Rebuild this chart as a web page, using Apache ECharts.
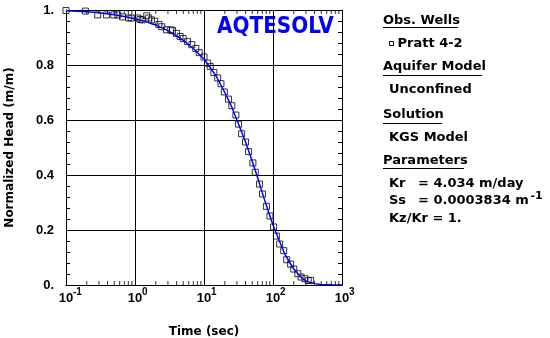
<!DOCTYPE html>
<html>
<head>
<meta charset="utf-8">
<script src="https://cdn.jsdelivr.net/npm/echarts@6/dist/echarts.min.js"></script>
<style>
  html, body { margin: 0; padding: 0; background: #ffffff; }
  #chart { width: 550px; height: 338px; }
</style>
</head>
<body>
<div id="chart"></div>
<script>
// Observed recovery at well Pratt 4-2: elapsed time (s) and normalized head (m/m)
const obsTime = [0.1, 0.191, 0.288, 0.386, 0.493, 0.564, 0.66, 0.81, 0.88, 1.1, 1.18, 1.27, 1.48, 1.58,
  1.73, 1.93, 2.22, 2.44, 2.86, 3.3, 3.5, 3.98, 4.5, 5.0, 5.78, 6.66, 7.6, 8.5, 10.0, 11.3, 12.3, 13.9,
  15.8, 17.6, 19.7, 22.6, 25.3, 29, 31.7, 35.1, 40, 44.3, 51.1, 55.3, 63.8, 70.4, 80.3, 90.4, 102, 112,
  125, 143, 158, 180, 200, 229, 255, 290, 324, 351];
const obsHead = [0.998, 0.996, 0.982, 0.982, 0.982, 0.982, 0.975, 0.971, 0.971, 0.971, 0.966, 0.964, 0.979, 0.971,
  0.964, 0.959, 0.947, 0.939, 0.928, 0.928, 0.925, 0.915, 0.904, 0.896, 0.885, 0.874, 0.86, 0.845, 0.829, 0.807, 0.795, 0.773,
  0.753, 0.732, 0.702, 0.676, 0.652, 0.618, 0.585, 0.55, 0.52, 0.485, 0.444, 0.41, 0.367, 0.331, 0.286, 0.251, 0.211, 0.178,
  0.149, 0.125, 0.092, 0.076, 0.058, 0.041, 0.029, 0.023, 0.016, 0.017];

// KGS model solution curve
const fitTime = [0.1, 0.2, 0.3, 0.5, 0.7, 1.0, 1.5, 2.0, 3.0, 4.0, 5.0, 7.0, 10, 15, 20, 25, 30, 40, 50,
  60, 70, 85, 100, 125, 150, 200, 250, 300, 400, 500, 700, 1000];
const fitHead = [0.997, 0.994, 0.99, 0.983, 0.976, 0.968, 0.956, 0.945, 0.925, 0.906, 0.89, 0.86, 0.822, 0.76, 0.70, 0.65, 0.60, 0.52, 0.45,
  0.39, 0.335, 0.27, 0.218, 0.157, 0.11, 0.058, 0.03, 0.015, 0.005, 0.002, 0.0005, 0.0];

// Axis ticks
const xTickPowers = [-1, 0, 1, 2, 3];
const yTickValues = [0, 0.2, 0.4, 0.6, 0.8, 1];
const yTickLabels = ['0.', '0.2', '0.4', '0.6', '0.8', '1.'];

// Log minor ticks at 2..9 within each decade
const minorTickTimes = [];
for (let p = -1; p < 3; p++) {
  for (let m = 2; m <= 9; m++) minorTickTimes.push(m * Math.pow(10, p));
}

const LABEL_FONT = '"Liberation Sans", Arial, sans-serif';
const TEXT_FONT = '"DejaVu Sans", sans-serif';
const BLACK = '#000000';

function textEl(str, x, y, size) {
  return {
    type: 'text', x: x, y: y, silent: true,
    style: {
      text: str, fill: BLACK, fontFamily: TEXT_FONT, fontWeight: 'bold', fontSize: size || 13,
      align: 'left', verticalAlign: 'middle'
    }
  };
}
function underline(x1, x2, y) {
  return { type: 'line', silent: true, shape: { x1: x1, y1: y, x2: x2, y2: y }, style: { stroke: BLACK, lineWidth: 1 } };
}
function powerOf(v) { return Math.round(Math.log10(v)); }

// shared settings of the log time axes
function timeAxis(extra) {
  return Object.assign({
    type: 'log', logBase: 10, min: 0.1, max: 1000,
    axisTick: { show: false }, splitLine: { show: false }
  }, extra);
}

const chart = echarts.init(document.getElementById('chart'), null, { renderer: 'canvas' });

const option = {
  animation: false,
  backgroundColor: '#ffffff',
  grid: { left: 66, top: 10, width: 276, height: 275, containLabel: false, outerBoundsMode: 'none' },
  xAxis: [
    // bottom axis: frame, decade grid lines, mantissa "10"
    timeAxis({
      position: 'bottom',
      name: 'Time (sec)', nameLocation: 'middle', nameGap: 41,
      nameTextStyle: { fontFamily: TEXT_FONT, fontWeight: 'bold', fontSize: 12, color: BLACK },
      axisLine: { show: true, lineStyle: { color: BLACK, width: 1 } },
      splitLine: { show: true, lineStyle: { color: BLACK, width: 1 } },
      axisLabel: {
        margin: 7, fontFamily: LABEL_FONT, fontWeight: 'bold', fontSize: 13, color: BLACK,
        formatter: function (v) { return xTickPowers.indexOf(powerOf(v)) >= 0 ? '10' : ''; }
      }
    }),
    // top frame edge
    timeAxis({
      position: 'top',
      axisLine: { show: true, lineStyle: { color: BLACK, width: 1 } },
      axisLabel: { show: false }
    }),
    // decade exponents written as superscripts
    timeAxis({
      position: 'bottom',
      axisLine: { show: false },
      axisLabel: {
        margin: 2, align: 'left', padding: [0, 0, 0, 7],
        fontFamily: LABEL_FONT, fontWeight: 'bold', fontSize: 10, color: BLACK,
        formatter: function (v) { const p = powerOf(v); return xTickPowers.indexOf(p) >= 0 ? String(p) : ''; }
      }
    })
  ],
  yAxis: [{
    type: 'value', min: 0, max: 1, interval: 0.2, position: 'left',
    name: 'Normalized Head (m/m)', nameLocation: 'middle', nameGap: 50,
    nameTextStyle: { fontFamily: TEXT_FONT, fontWeight: 'bold', fontSize: 12, color: BLACK },
    axisLine: { show: true, lineStyle: { color: BLACK, width: 1 } },
    axisTick: { show: true, inside: true, length: 4, lineStyle: { color: BLACK } },
    minorTick: { show: true, splitNumber: 5, length: 4, lineStyle: { color: BLACK, width: 1 } },
    splitLine: { show: true, lineStyle: { color: BLACK, width: 1 } },
    axisLabel: {
      margin: 12, fontFamily: LABEL_FONT, fontWeight: 'bold', fontSize: 13, color: BLACK,
      formatter: function (v) {
        const i = yTickValues.findIndex(function (t) { return Math.abs(t - v) < 1e-9; });
        return i >= 0 ? yTickLabels[i] : '';
      }
    }
  }, {
    type: 'value', min: 0, max: 1, interval: 0.2, position: 'right',
    axisLine: { show: true, lineStyle: { color: BLACK, width: 1 } },
    axisTick: { show: true, inside: true, length: 4, lineStyle: { color: BLACK } },
    minorTick: { show: true, splitNumber: 5, length: 4, lineStyle: { color: BLACK, width: 1 } },
    splitLine: { show: false }, axisLabel: { show: false }
  }],
  series: [{
    // minor log ticks along the bottom edge
    name: 'minor ticks bottom', type: 'scatter', xAxisIndex: 0, yAxisIndex: 0, silent: true, z: 6,
    symbol: 'rect', symbolSize: [1, 4], symbolOffset: [0, -2],
    itemStyle: { color: BLACK, borderWidth: 0 },
    data: minorTickTimes.map(function (t) { return [t, 0]; })
  }, {
    // minor log ticks along the top edge
    name: 'minor ticks top', type: 'scatter', xAxisIndex: 0, yAxisIndex: 0, silent: true, z: 6,
    symbol: 'rect', symbolSize: [1, 4], symbolOffset: [0, 2],
    itemStyle: { color: BLACK, borderWidth: 0 },
    data: minorTickTimes.map(function (t) { return [t, 1]; })
  }, {
    name: 'Pratt 4-2', type: 'scatter', xAxisIndex: 0, yAxisIndex: 0, z: 4,
    symbol: 'rect', symbolSize: 6,
    itemStyle: { color: 'rgba(0,0,0,0)', borderColor: BLACK, borderWidth: 1 },
    data: obsTime.map(function (t, i) { return [t, obsHead[i]]; })
  }, {
    name: 'KGS Model', type: 'line', xAxisIndex: 0, yAxisIndex: 0, z: 5,
    showSymbol: false, symbol: 'none',
    lineStyle: { color: '#0000ff', width: 1.5 },
    data: fitTime.map(function (t, i) { return [t, fitHead[i]]; })
  }],
  graphic: [
    { type: 'text', x: 217, y: 27, scaleX: 0.87, silent: true,
      style: { text: 'AQTESOLV', fill: '#0000ff', fontFamily: TEXT_FONT, fontWeight: 'bold', fontSize: 23, align: 'left', verticalAlign: 'middle' } },

    textEl('Obs. Wells', 383, 21),
    underline(383, 458, 27.5),
    { type: 'rect', silent: true, shape: { x: 389.5, y: 41.5, width: 4, height: 4 }, style: { fill: '#fff', stroke: BLACK, lineWidth: 1 } },
    textEl('Pratt 4-2', 397.5, 44),

    textEl('Aquifer Model', 383, 67),
    underline(383, 482, 75.5),
    textEl('Unconfined', 389, 90),

    textEl('Solution', 383, 114.5),
    underline(383, 442, 123.5),
    textEl('KGS Model', 389, 137.5),

    textEl('Parameters', 383, 160.5),
    underline(383, 464, 168.5),
    textEl('Kr', 389, 183.5),
    textEl('= 4.034 m/day', 418, 183.5),
    textEl('Ss', 389, 200.5),
    textEl('= 0.0003834 m', 418, 200.5),
    textEl('-1', 530.5, 196, 11),
    textEl('Kz/Kr = 1.', 389, 219)
  ]
};

chart.setOption(option);
</script>
</body>
</html>
